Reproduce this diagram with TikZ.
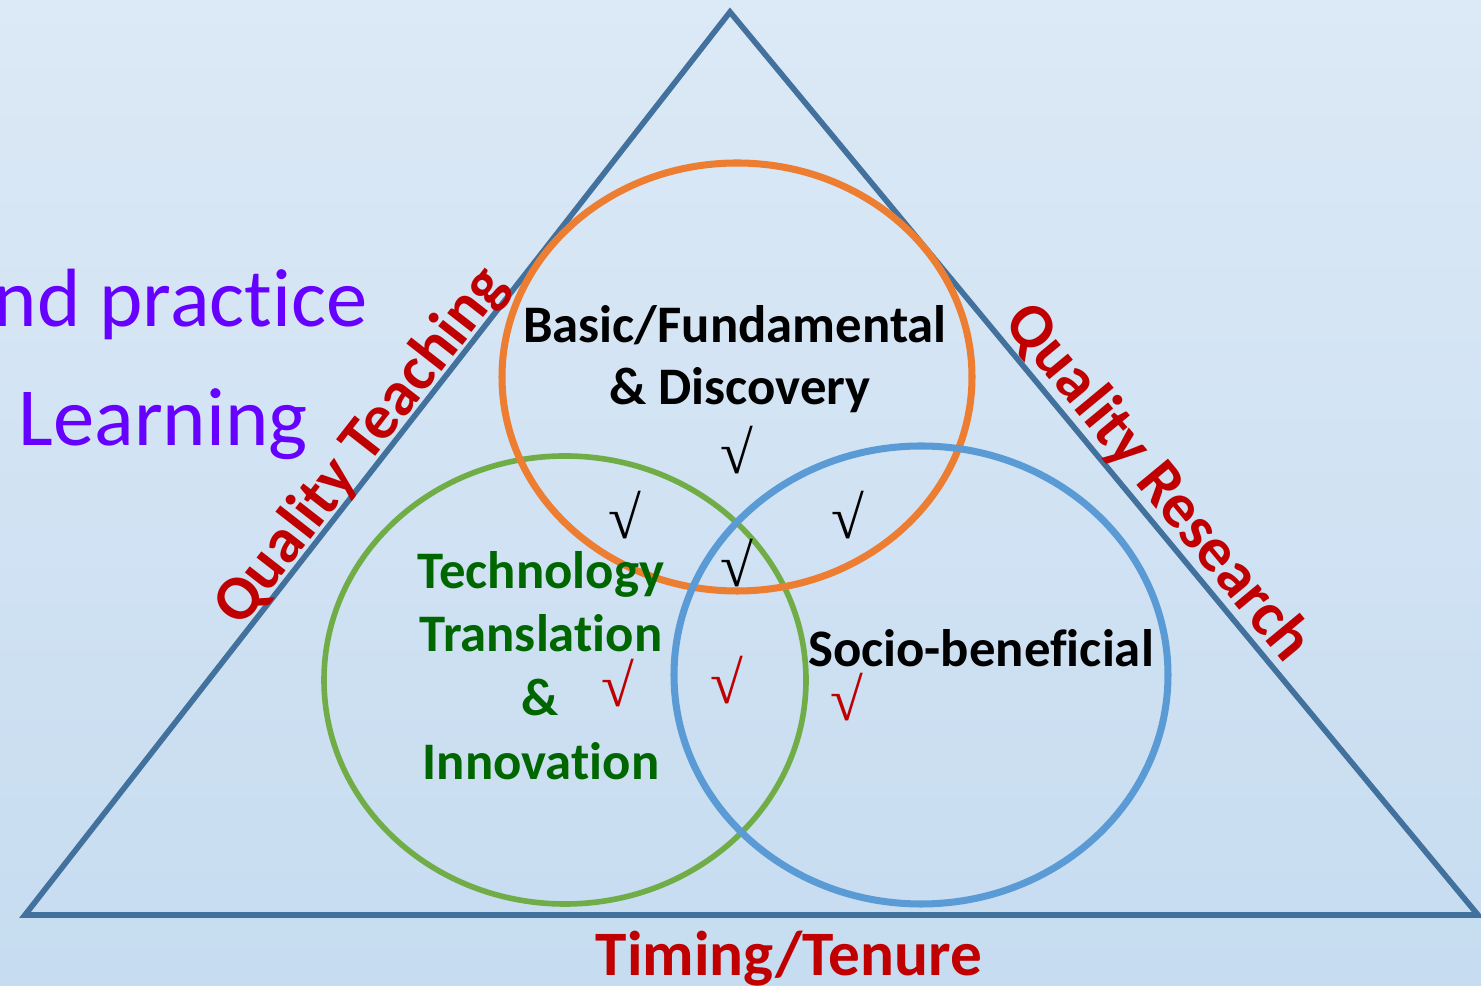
\documentclass[tikz,border=0pt]{standalone}
\usepackage{fontspec}
\setmainfont[Ligatures=NoCommon]{Carlito}
\newfontfamily\tickfont{Liberation Serif}
\usetikzlibrary{positioning}

\definecolor{bgtop}{HTML}{DCE9F6}
\definecolor{bgmid}{HTML}{B8D3EC}
\definecolor{bgbot}{HTML}{C6DCF0}
\definecolor{edgeblue}{HTML}{41719C}
\definecolor{ringorange}{HTML}{ED7D31}
\definecolor{ringgreen}{HTML}{70AD47}
\definecolor{ringblue}{HTML}{5B9BD5}
\definecolor{sidered}{HTML}{C00000}
\definecolor{techgreen}{HTML}{006600}
\definecolor{lilac}{HTML}{6600FF}

\begin{document}
\begin{tikzpicture}[
    x=0.01cm, y=-0.01cm,
    ring/.style={line width=2pt},
    sidelabel/.style={font=\fontsize{18}{20}\selectfont\bfseries, text=sidered, inner sep=0pt, anchor=base},
    venntext/.style={font=\fontsize{15}{17}\selectfont\bfseries, inner sep=0pt, anchor=base},
    lefttext/.style={font=\fontsize{23.5}{26}\selectfont, text=lilac, inner sep=0pt},
    tickmark/.style={font=\tickfont\fontsize{17}{19}\selectfont, inner sep=0pt}
  ]
    % background
    \shade[top color=bgtop, middle color=bgmid, bottom color=bgbot] (0,0) rectangle (1481,986);
    \useasboundingbox (0,0) rectangle (1481,986);

    % triangle
    \coordinate (apex) at (730,12);
    \coordinate (leftfoot) at (25,915);
    \coordinate (rightfoot) at (1478,915);
    \draw[edgeblue, line width=1.6pt] (apex) -- (leftfoot) -- (rightfoot) -- cycle;

    % three circles
    \coordinate (techc) at (565,680);
    \coordinate (basicc) at (737,377);
    \coordinate (socioc) at (921,675);
    \draw[ring, ringgreen, line width=1.6pt] (techc) ellipse [x radius=241, y radius=224];
    \draw[ring, ringorange] (basicc) ellipse [x radius=235, y radius=214];
    \draw[ring, ringblue] (socioc) ellipse [x radius=247, y radius=229];

    % text on the left
    \node[lefttext, anchor=base east] (practice) at (368,327) {nd practice};
    \node[lefttext, anchor=base west] (learning) at (18,446) {Learning};

    % side labels
    \node[sidelabel, rotate=52] (teaching) at (375,457) {Quality Teaching};
    \node[sidelabel, rotate=-50.4] (research) at (1144,494) {Quality Research};
    \node[sidelabel] (timing) at (789,976) {Timing/Tenure};

    % circle labels
    \node[venntext] (basic) at (735,343) {Basic/Fundamental};
    \node[venntext] (discovery) at (740,405) {\& Discovery};
    \node[venntext, text=techgreen] (technology) at (541,589) {Technology};
    \node[venntext, text=techgreen] (translation) at (541,652) {Translation};
    \node[venntext, text=techgreen] (amp) at (540,716) {\&};
    \node[venntext, text=techgreen] (innovation) at (541,780) {Innovation};
    \node[venntext] (socio) at (981,667) {Socio-beneficial};

    % ticks
    \node[tickmark] (tickbasic) at (737,450) {√};
    \node[tickmark] (tickbt) at (625,515) {√};
    \node[tickmark] (tickbs) at (848,515) {√};
    \node[tickmark] (tickall) at (737,563) {√};
    \node[tickmark, text=sidered] (ticktech) at (618,683) {√};
    \node[tickmark, text=sidered] (tickts) at (727,680) {√};
    \node[tickmark, text=sidered] (ticksocio) at (847,697) {√};
  \end{tikzpicture}
\end{document}
